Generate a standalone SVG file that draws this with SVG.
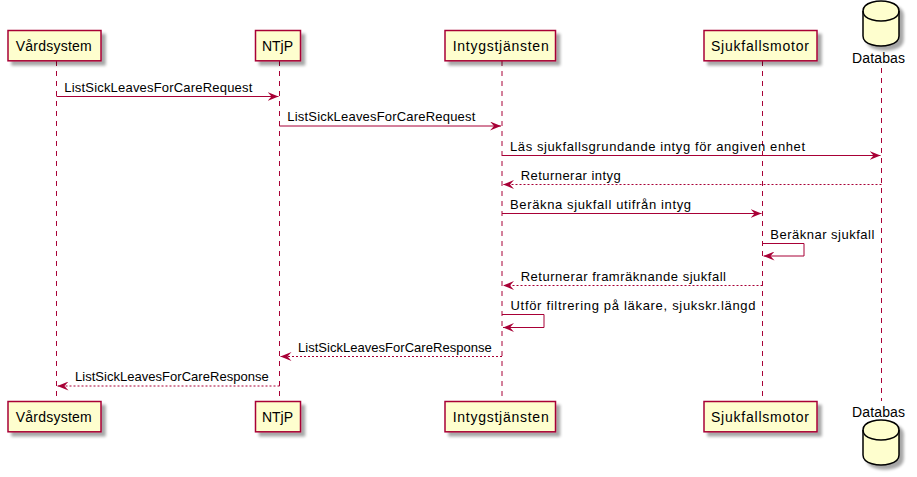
<svg xmlns="http://www.w3.org/2000/svg" width="917" height="477" viewBox="0 0 917 477">
<defs>
<filter id="sh" x="-20%" y="-20%" width="160%" height="160%">
<feGaussianBlur in="SourceAlpha" stdDeviation="1.7" result="b"/>
<feOffset in="b" dx="4" dy="4" result="o"/>
<feComponentTransfer in="o" result="s"><feFuncA type="linear" slope="0.35"/></feComponentTransfer>
<feMerge><feMergeNode in="s"/><feMergeNode in="SourceGraphic"/></feMerge>
</filter>
<marker id="ah" viewBox="0 0 11 9" refX="11" refY="4.5" markerWidth="11" markerHeight="9" markerUnits="userSpaceOnUse" orient="auto">
<polygon points="0,0 11,4.5 0,9 4,4.5" fill="#A80036"/>
</marker>
</defs>
<style>
.box{fill:#FEFECE;stroke:#A80036;stroke-width:1.5}
.db{fill:#FEFECE;stroke:#000;stroke-width:1.5}
.life{stroke:#A80036;stroke-width:1;stroke-dasharray:5,5;fill:none}
.pt{font-family:"Liberation Sans",Arial,sans-serif;font-size:14px;fill:#000}
.mt{font-family:"Liberation Sans",Arial,sans-serif;font-size:13px;fill:#000}
.msg{stroke:#A80036;stroke-width:1;fill:none;marker-end:url(#ah)}
.ret{stroke:#A80036;stroke-width:1;fill:none;stroke-dasharray:2,2;marker-end:url(#ah)}
</style>
<rect width="917" height="477" fill="#FFFFFF"/>
<g id="lifelines">
<line class="life" x1="56.5" y1="61" x2="56.5" y2="401.5"/>
<line class="life" x1="279.5" y1="61" x2="279.5" y2="401.5"/>
<line class="life" x1="502" y1="61" x2="502" y2="401.5"/>
<line class="life" x1="762.5" y1="61" x2="762.5" y2="401.5"/>
<line class="life" x1="881.5" y1="68" x2="881.5" y2="401"/>
</g>
<g id="node-vardsystem">
<rect class="box" filter="url(#sh)" x="8" y="30.5" width="93" height="30.3"/>
<text class="pt" x="15.7" y="50.5" textLength="76" lengthAdjust="spacing">Vårdsystem</text>
<rect class="box" filter="url(#sh)" x="8" y="401.5" width="93" height="30.3"/>
<text class="pt" x="15.7" y="421.5" textLength="76" lengthAdjust="spacing">Vårdsystem</text>
</g>
<g id="node-ntjp">
<rect class="box" filter="url(#sh)" x="255.5" y="30.5" width="45" height="30.3"/>
<text class="pt" x="262" y="50.5" textLength="31" lengthAdjust="spacing">NTjP</text>
<rect class="box" filter="url(#sh)" x="255.5" y="401.5" width="45" height="30.3"/>
<text class="pt" x="262" y="421.5" textLength="31" lengthAdjust="spacing">NTjP</text>
</g>
<g id="node-intygstjansten">
<rect class="box" filter="url(#sh)" x="445" y="30.5" width="110.5" height="30.3"/>
<text class="pt" x="452.7" y="50.5" textLength="96" lengthAdjust="spacing">Intygstjänsten</text>
<rect class="box" filter="url(#sh)" x="445" y="401.5" width="110.5" height="30.3"/>
<text class="pt" x="452.7" y="421.5" textLength="96" lengthAdjust="spacing">Intygstjänsten</text>
</g>
<g id="node-sjukfallsmotor">
<rect class="box" filter="url(#sh)" x="704" y="30.5" width="113" height="30.3"/>
<text class="pt" x="711" y="50.5" textLength="98" lengthAdjust="spacing">Sjukfallsmotor</text>
<rect class="box" filter="url(#sh)" x="704" y="401.5" width="113" height="30.3"/>
<text class="pt" x="711" y="421.5" textLength="98" lengthAdjust="spacing">Sjukfallsmotor</text>
</g>
<g id="node-databas">
<g filter="url(#sh)">
<path class="db" d="M863,11 C863,1 881,1 881,1 C881,1 899,1 899,11 L899,36 C899,46 881,46 881,46 C881,46 863,46 863,36 Z"/>
<path class="db" fill="none" d="M863,11 C863,21 881,21 881,21 C881,21 899,21 899,11" style="fill:none"/>
</g>
<text class="pt" x="852" y="63" textLength="53" lengthAdjust="spacing">Databas</text>
<text class="pt" x="852" y="417" textLength="53" lengthAdjust="spacing">Databas</text>
<g filter="url(#sh)">
<path class="db" d="M863,430 C863,420 881,420 881,420 C881,420 899,420 899,430 L899,455 C899,465 881,465 881,465 C881,465 863,465 863,455 Z"/>
<path class="db" d="M863,430 C863,440 881,440 881,440 C881,440 899,440 899,430" style="fill:none"/>
</g>
</g>
<g id="connectors">
<line class="msg" x1="56.5" y1="96.5" x2="278.5" y2="96.5"/>
<text class="mt" x="64.3" y="91.7" textLength="188" lengthAdjust="spacing">ListSickLeavesForCareRequest</text>
<line class="msg" x1="279.5" y1="126" x2="501" y2="126"/>
<text class="mt" x="287.3" y="121.2" textLength="188" lengthAdjust="spacing">ListSickLeavesForCareRequest</text>
<line class="msg" x1="502" y1="155.5" x2="880.5" y2="155.5"/>
<text class="mt" x="510" y="150.8" textLength="295" lengthAdjust="spacing">Läs sjukfallsgrundande intyg för angiven enhet</text>
<line class="ret" x1="881.5" y1="184.5" x2="503" y2="184.5"/>
<text class="mt" x="520.7" y="179.8" textLength="100" lengthAdjust="spacing">Returnerar intyg</text>
<line class="msg" x1="502" y1="213.5" x2="761.5" y2="213.5"/>
<text class="mt" x="510" y="208.8" textLength="181" lengthAdjust="spacing">Beräkna sjukfall utifrån intyg</text>
<polyline class="msg" points="762.5,243.5 804,243.5 804,256 763.5,256"/>
<text class="mt" x="770.3" y="238.5" textLength="104" lengthAdjust="spacing">Beräknar sjukfall</text>
<line class="ret" x1="762.5" y1="285.5" x2="503" y2="285.5"/>
<text class="mt" x="520.7" y="280.5" textLength="205.3" lengthAdjust="spacing">Returnerar framräknande sjukfall</text>
<polyline class="msg" points="502,314.5 544,314.5 544,327.5 503,327.5"/>
<text class="mt" x="510.5" y="309.8" textLength="245" lengthAdjust="spacing">Utför filtrering på läkare, sjukskr.längd</text>
<line class="ret" x1="502" y1="356.5" x2="280.5" y2="356.5"/>
<text class="mt" x="298" y="351.7" textLength="193.7" lengthAdjust="spacing">ListSickLeavesForCareResponse</text>
<line class="ret" x1="279.5" y1="386" x2="57.5" y2="386"/>
<text class="mt" x="75" y="381.2" textLength="193.7" lengthAdjust="spacing">ListSickLeavesForCareResponse</text>
</g>
</svg>
